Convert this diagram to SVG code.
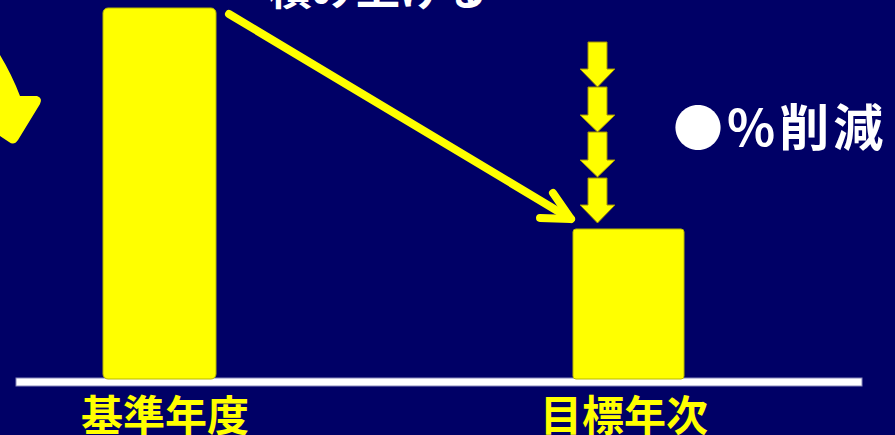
<svg xmlns="http://www.w3.org/2000/svg" width="895" height="435" viewBox="0 0 895 435">
<style>
.bar{fill:#ffff00;stroke:#b8b800;stroke-width:1}
.lbl{font-family:"Noto Sans CJK JP","Liberation Sans",sans-serif;font-weight:bold;font-size:42px;fill:#ffff00}
.wt{font-family:"Noto Sans CJK JP","Liberation Sans",sans-serif;font-weight:bold;fill:#ffffff}
.conn{stroke:#ffff00;stroke-width:8;stroke-linecap:round;stroke-linejoin:round;fill:none}
.down{fill:#ffff00;stroke:#a09000;stroke-width:1}
</style>
<rect width="895" height="435" fill="#000066"/>
<g id="base-line"><rect x="16" y="378" width="846" height="8" fill="#ffffff" stroke="#8888bb" stroke-width="1"/></g>
<g id="bar-base"><rect class="bar" x="103" y="8" width="113" height="371" rx="5"/></g>
<g id="bar-target"><rect class="bar" x="573" y="229" width="111" height="150" rx="3"/></g>
<g id="label-base"><text class="lbl" x="165" y="431" text-anchor="middle">基準年度</text></g>
<g id="label-target"><text class="lbl" x="624" y="431" text-anchor="middle">目標年次</text></g>
<g id="label-stack"><text class="wt" x="268" y="5" font-size="44">積み上げる</text></g>
<g id="label-cut"><text class="wt" x="673" y="146" font-size="50" letter-spacing="4">●%削減</text></g>
<g id="curved-arrow-head"><path d="M0,55 Q12,75 20,96 L37,96 Q43,98 40,104 L18,140 Q14,146 9,142 L0,136 Z" fill="#ffff00"/></g>
<g id="down-arrows">
<path class="down" d="M588,42 H607 V69 H615 L597.5,87 L580,69 H588 Z"/>
<path class="down" d="M588,87 H607 V115 H615 L597.5,132 L580,115 H588 Z"/>
<path class="down" d="M588,132 H607 V160 H615 L597.5,177 L580,160 H588 Z"/>
<path class="down" d="M588,178 H607 V205 H615 L597.5,223 L580,205 H588 Z"/>
</g>
<g id="connectors">
<path class="conn" d="M229,14 L571,219"/>
<path class="conn" d="M553,193 L571,219 L540,218"/>
</g>
</svg>
